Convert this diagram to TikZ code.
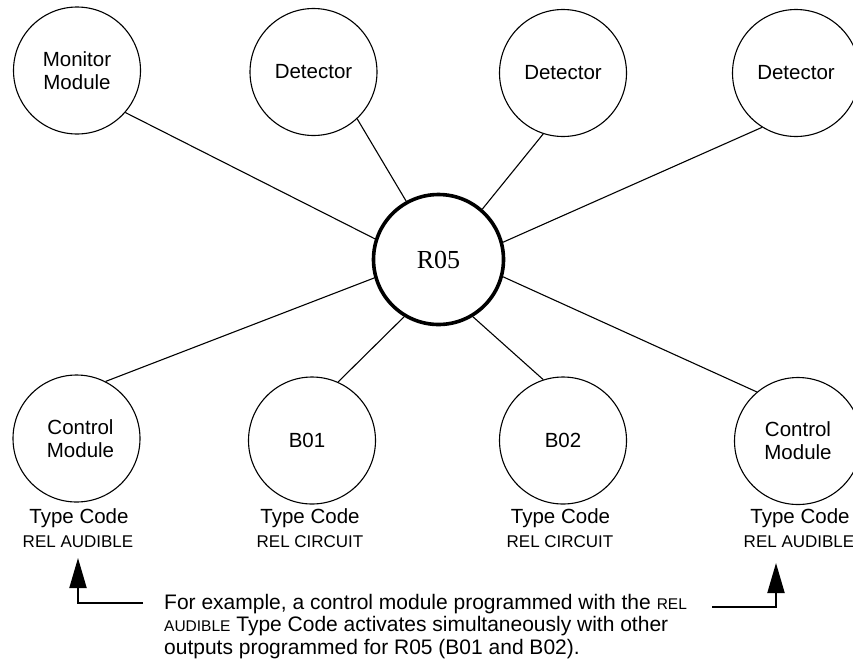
\documentclass[tikz,border=0pt]{standalone}
\usepackage{fontspec}
\setmainfont{Liberation Sans}
\newfontfamily\hubfont{Liberation Serif}
\usetikzlibrary{arrows.meta}
\begin{document}
\begin{tikzpicture}[x=1pt,y=-1pt,
  module/.style={circle,draw,line width=1.1pt,minimum size=127pt,inner sep=0pt,align=center,font=\fontsize{20.5}{23}\selectfont},
  hub/.style={circle,draw,line width=3.6pt,minimum size=130pt,inner sep=0pt,font=\hubfont\fontsize{26}{26}\selectfont},
  link/.style={line width=1.1pt},
  lbl/.style={inner sep=0pt,anchor=base,font=\fontsize{20.5}{23}\selectfont},
  sublbl/.style={inner sep=0pt,anchor=base,font=\fontsize{17}{18}\selectfont},
  callout/.style={line width=2pt,-{Triangle[length=30pt,width=17pt]}}
]
\useasboundingbox (0,0) rectangle (853,665);
% top row
\node[module] (mon)  at (77,70.5) {Monitor\\Module};
\node[module] (det1) at (313.5,72) {Detector};
\node[module] (det2) at (563,73) {Detector};
\node[module] (det3) at (796,73) {Detector};
% hub
\node[hub] (r05) at (438.5,259.5) {R05};
% bottom row
\node[module] (cml) at (76.5,438.5) {\hspace*{8pt}Control\\\hspace*{8pt}Module};
\node[module] (b01) at (312,440.5) {B01\hspace*{10pt}};
\node[module] (b02) at (563,440.5) {B02};
\node[module] (cmr) at (798,441) {Control\\Module};
% connectors
\draw[link] (mon.-41.5) -- (r05.162);
\draw[link] (det1.-47.3) -- (r05.119.7);
\draw[link] (det2.-108.7) -- (r05.49.7);
\draw[link] (det3.-122.7) -- (r05.15.8);
\draw[link] (r05.-15.8) -- (cmr.130);
\draw[link] (r05.-59.5) -- (b02.108.9);
\draw[link] (r05.-121.5) -- (b01.66.5);
\draw[link] (r05.-164.5) -- (cml.63.6);
% type code labels
\node[lbl] (tc1) at (79,523) {Type Code};
\node[sublbl] (rc1) at (78,547) {REL AUDIBLE};
\node[lbl] (tc2) at (310,523) {Type Code};
\node[sublbl] (rc2) at (310,547) {REL CIRCUIT};
\node[lbl] (tc3) at (560.5,523) {Type Code};
\node[sublbl] (rc3) at (560,547) {REL CIRCUIT};
\node[lbl] (tc4) at (800,523) {Type Code};
\node[sublbl] (rc4) at (799,547) {REL AUDIBLE};
% note
\node[inner sep=0pt,anchor=north west,align=left,font=\fontsize{21}{22.5}\selectfont] (note) at (164,594)
  {For example, a control module programmed with the {\fontsize{15.5}{15.5}\selectfont REL}\\
   {\fontsize{15.5}{15.5}\selectfont AUDIBLE} Type Code activates simultaneously with other\\
   outputs programmed for R05 (B01 and B02).};
% callout arrows
\coordinate (la) at (143,603);
\coordinate (lc) at (78,603);
\coordinate (lt) at (78,558);
\coordinate (ra) at (712,607);
\coordinate (rc) at (776,607);
\coordinate (rt) at (776,563);
\draw[callout] (la) -- (lc) -- (lt);
\draw[callout] (ra) -- (rc) -- (rt);
\end{tikzpicture}
\end{document}
